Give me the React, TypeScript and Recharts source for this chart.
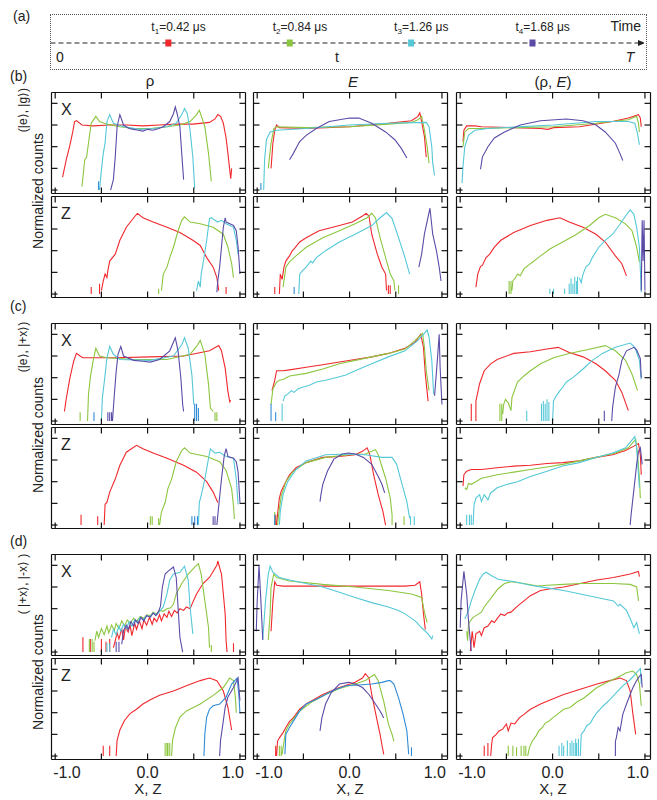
import React from 'react';
import { LineChart, Line, XAxis, YAxis, ScatterChart, Scatter, ReferenceLine } from 'recharts';

const FONT = '"Liberation Sans", Arial, Helvetica, sans-serif';
const RED = '#f0282d';
const GREEN = '#8cc63f';
const CYAN = '#55c8d7';
const BLUE = '#2f8bd6';
const PURPLE = '#5b4ba7';
const INK = '#222';

// ---------- timeline (a) ----------
const timeValues = [0.42, 0.84, 1.26, 1.68];
const timeSubs = ['1', '2', '3', '4'];
const timeTexts = ['=0.42 \u03bcs', '=0.84 \u03bcs', '=1.26 \u03bcs', '=1.68 \u03bcs'];
const timeColors = [RED, GREEN, CYAN, PURPLE];
const timeEnd = 2.066;

// ---------- axes ----------
const xTicks = [-1, -0.5, 0, 0.5, 1];
const yTicks = [0, 0.25, 0.5, 0.75, 1];
const xLabelTicks = [-1, 0, 1];
const X_DOMAIN: [number, number] = [-1.04, 1.06];
const Y_DOMAIN: [number, number] = [-0.04, 1.125];

// ---------- (b) (|e>,|g>) ----------
const b_rho_X = {
  red: [-0.92,0.15,-0.88,0.35,-0.84,0.52,-0.81,0.67,-0.79,0.79,-0.77,0.8,-0.71,0.75,-0.59,0.74,-0.41,0.75,-0.23,0.75,-0.05,0.74,0.13,0.75,0.31,0.76,0.49,0.76,0.67,0.78,0.73,0.82,0.76,0.87,0.79,0.85,0.82,0.77,0.85,0.6,0.87,0.42,0.9,0.13,0.91,0.25],
  green: [-0.71,0.04,-0.68,0.35,-0.66,0.38,-0.64,0.54,-0.61,0.77,-0.56,0.85,-0.52,0.79,-0.44,0.76,-0.3,0.73,-0.15,0.71,0.03,0.71,0.21,0.73,0.35,0.75,0.46,0.79,0.53,0.87,0.56,0.92,0.59,0.83,0.62,0.73,0.66,0.42,0.69,0.1],
  cyan: [-0.52,0,-0.5,0.23,-0.48,0.42,-0.46,0.54,-0.44,0.79,-0.41,0.87,-0.37,0.77,-0.26,0.73,-0.08,0.7,0.06,0.71,0.21,0.73,0.31,0.77,0.37,0.87,0.4,0.94,0.43,0.88,0.46,0.69,0.49,0.38,0.51,0.02],
  blueS: [-0.53,0.1],
  purple: [-0.4,0,-0.37,0.12,-0.35,0.38,-0.33,0.73,-0.3,0.87,-0.26,0.75,-0.2,0.71,-0.15,0.7,-0.1,0.69,-0.05,0.68,0.0,0.7,0.06,0.69,0.12,0.71,0.17,0.73,0.24,0.79,0.28,0.88,0.3,0.96,0.32,0.88,0.35,0.73,0.37,0.42,0.39,0.12],
};
const b_rho_Z = {
  red: [-0.5,0.04,-0.48,0.15,-0.46,0.23,-0.44,0.19,-0.43,0.27,-0.41,0.38,-0.35,0.46,-0.3,0.62,-0.23,0.77,-0.15,0.88,-0.11,0.93,-0.05,0.88,0.06,0.83,0.21,0.77,0.35,0.71,0.49,0.62,0.57,0.56,0.64,0.42,0.71,0.31,0.75,0.19,0.77,0.04],
  redS: [-0.61,0.08,-0.52,0.12,0.85,0.08],
  green: [0.15,0.04,0.17,0.23,0.21,0.31,0.24,0.42,0.28,0.54,0.33,0.73,0.37,0.85,0.4,0.89,0.46,0.83,0.57,0.81,0.71,0.77,0.82,0.69,0.87,0.54,0.91,0.35,0.93,0.19],
  greenS: [0.12,0.06],
  cyan: [0.53,0.04,0.55,0.15,0.57,0.08,0.58,0.23,0.6,0.35,0.64,0.62,0.67,0.87,0.69,0.88,0.73,0.85,0.76,0.83,0.8,0.85,0.85,0.81,0.93,0.77,0.96,0.62,0.98,0.46],
  purple: [0.75,0.02,0.76,0.15,0.78,0.31,0.8,0.54,0.82,0.77,0.84,0.88,0.85,0.83,0.89,0.81,0.93,0.79,0.96,0.73,0.98,0.54,1.0,0.23],
};
const b_E_X = {
  red: [-0.85,0.25,-0.83,0.54,-0.81,0.69,-0.79,0.75,-0.76,0.72,-0.47,0.71,-0.26,0.72,0,0.73,0.21,0.75,0.42,0.77,0.67,0.8,0.74,0.85,0.76,0.89,0.78,0.79,0.81,0.62,0.83,0.38],
  green: [-0.88,0.25,-0.85,0.54,-0.82,0.71,-0.79,0.73,-0.47,0.72,0,0.73,0.42,0.76,0.67,0.78,0.74,0.81,0.78,0.85,0.81,0.69,0.84,0.5,0.86,0.31],
  cyan: [-0.93,0,-0.92,0.35,-0.9,0.58,-0.86,0.67,-0.79,0.69,-0.47,0.71,0,0.75,0.42,0.77,0.83,0.78,0.86,0.73,0.89,0.5,0.9,0.31,0.92,0.17],
  blueS: [-0.96,0.08],
  purple: [-0.65,0.35,-0.61,0.42,-0.54,0.56,-0.47,0.63,-0.36,0.71,-0.22,0.79,0,0.83,0.1,0.83,0.24,0.77,0.39,0.67,0.49,0.58,0.56,0.48,0.62,0.37],
};
const b_E_Z = {
  red: [-0.76,0,-0.75,0.23,-0.73,0.17,-0.71,0.31,-0.69,0.38,-0.65,0.44,-0.62,0.5,-0.6,0.52,-0.54,0.6,-0.47,0.65,-0.33,0.73,-0.11,0.79,0.03,0.83,0.14,0.9,0.18,0.93,0.21,0.9,0.24,0.69,0.3,0.46,0.35,0.31,0.39,0.23,0.4,0.04],
  redS: [-0.81,0.08,0.42,0.1,0.44,0.1],
  green: [-0.72,0.08,-0.7,0.23,-0.69,0.31,-0.65,0.37,-0.58,0.44,-0.47,0.54,-0.29,0.65,-0.11,0.73,0.06,0.81,0.19,0.88,0.24,0.93,0.28,0.88,0.33,0.65,0.39,0.42,0.44,0.23,0.48,0.15,0.49,0.04],
  greenS: [0.53,0.1],
  cyan: [-0.55,0,-0.54,0.23,-0.51,0.27,-0.47,0.31,-0.42,0.38,-0.4,0.36,-0.36,0.42,-0.26,0.5,-0.11,0.6,0.06,0.69,0.24,0.79,0.33,0.88,0.4,0.94,0.46,0.87,0.53,0.65,0.6,0.42,0.65,0.23],
  blueS: [-0.6,0.08],
  purple: [0.75,0.31,0.78,0.46,0.81,0.69,0.87,0.99,0.9,0.69,0.94,0.5,0.97,0.31,0.99,0.15],
};
const b_RE_X = {
  red: [-0.97,0.56,-0.96,0.69,-0.93,0.74,-0.84,0.74,-0.77,0.73,-0.42,0.72,-0.13,0.71,-0.05,0.7,0.01,0.72,0.29,0.73,0.65,0.79,0.82,0.83,0.93,0.87,0.95,0.83,0.96,0.73],
  green: [-0.97,0.5,-0.95,0.67,-0.91,0.71,-0.77,0.71,0.01,0.73,0.47,0.77,0.82,0.81,0.91,0.85,0.93,0.77,0.94,0.67],
  cyan: [-0.98,0.08,-0.97,0.27,-0.95,0.5,-0.91,0.63,-0.84,0.69,-0.7,0.71,0.01,0.75,0.47,0.79,0.82,0.79,0.89,0.77,0.92,0.65,0.94,0.52],
  purple: [-0.78,0.24,-0.76,0.38,-0.7,0.5,-0.63,0.6,-0.52,0.67,-0.35,0.75,-0.13,0.8,0.15,0.82,0.33,0.8,0.47,0.75,0.57,0.67,0.68,0.54,0.73,0.42,0.76,0.34],
};
const b_RE_Z = {
  red: [-0.83,0.08,-0.81,0.23,-0.78,0.32,-0.76,0.33,-0.72,0.42,-0.68,0.46,-0.63,0.54,-0.56,0.62,-0.42,0.71,-0.24,0.79,-0.06,0.85,0.08,0.88,0.18,0.83,0.33,0.77,0.47,0.69,0.57,0.6,0.68,0.44,0.75,0.35,0.8,0.21],
  green: [-0.44,0.04,-0.43,0.15,-0.4,0.19,-0.38,0.23,-0.35,0.21,-0.31,0.29,-0.24,0.35,-0.13,0.44,-0.03,0.52,0.11,0.6,0.26,0.69,0.4,0.79,0.5,0.88,0.57,0.92,0.68,0.88,0.79,0.81,0.86,0.73,0.91,0.54,0.94,0.37],
  greenS: [-0.47,0.15,-0.45,0.15],
  cyan: [0.29,0.19,0.31,0.13,0.33,0.23,0.36,0.31,0.4,0.35,0.43,0.42,0.5,0.54,0.57,0.62,0.65,0.69,0.72,0.79,0.79,0.9,0.84,0.97,0.88,0.92,0.91,0.77,0.94,0.54,0.96,0.02],
  cyanS: [-0.03,0.06,0.01,0.06,0.13,0.06,0.18,0.12,0.2,0.18,0.22,0.12,0.24,0.2,0.26,0.15,0.27,0.2],
  purple: [0.96,0.04,0.97,0.85,0.98,0.38,0.99,0.85,1.0,0.04],
};

// ---------- (c) (|e>,|+x>) ----------
const c_rho_X = {
  red: [-0.9,0.11,-0.88,0.26,-0.84,0.5,-0.8,0.69,-0.77,0.78,-0.73,0.75,-0.7,0.73,-0.34,0.73,0.03,0.74,0.39,0.75,0.67,0.81,0.77,0.87,0.8,0.81,0.84,0.61,0.87,0.34,0.89,0.22,0.9,0.24],
  green: [-0.65,0,-0.64,0.3,-0.62,0.5,-0.59,0.69,-0.56,0.84,-0.52,0.75,-0.44,0.73,-0.15,0.71,0.21,0.71,0.46,0.77,0.53,0.86,0.57,0.93,0.62,0.77,0.66,0.42,0.68,0.15,0.71,0.11],
  greenS: [-0.73,0.1,0.73,0.1,0.75,0.1],
  cyan: [-0.5,0,-0.49,0.26,-0.46,0.53,-0.44,0.73,-0.41,0.86,-0.37,0.77,-0.3,0.71,0.03,0.7,0.28,0.75,0.37,0.88,0.4,0.96,0.44,0.84,0.48,0.53,0.5,0.19],
  blueS: [-0.58,0.1,0.51,0.2,0.53,0.2,0.55,0.15],
  purple: [-0.38,0,-0.36,0.3,-0.34,0.57,-0.32,0.77,-0.29,0.86,-0.26,0.75,-0.15,0.7,-0.05,0.69,0.03,0.68,0.13,0.71,0.24,0.81,0.3,0.96,0.33,0.81,0.36,0.5,0.38,0.19,0.39,0.11],
  purpleS: [-0.43,0.1,-0.41,0.1,-0.39,0.1],
};
const c_rho_Z = {
  red: [-0.47,0,-0.46,0.24,-0.44,0.26,-0.41,0.38,-0.35,0.53,-0.3,0.69,-0.23,0.84,-0.12,0.92,-0.05,0.88,0.06,0.83,0.21,0.77,0.39,0.69,0.53,0.61,0.64,0.5,0.71,0.38,0.76,0.26],
  redS: [-0.72,0.12,-0.54,0.1],
  green: [0.13,0,0.15,0.15,0.19,0.26,0.22,0.42,0.26,0.53,0.31,0.73,0.37,0.86,0.4,0.89,0.46,0.83,0.64,0.79,0.78,0.73,0.85,0.63,0.91,0.42,0.93,0.22,0.94,0.07],
  greenS: [0.03,0.1,0.05,0.1,0.12,0.08],
  cyan: [0.55,0,0.56,0.26,0.58,0.34,0.62,0.53,0.66,0.77,0.68,0.88,0.73,0.83,0.78,0.84,0.85,0.79,0.93,0.77,0.96,0.53,0.98,0.24],
  blueS: [0.48,0.1,0.51,0.1,0.54,0.1],
  purple: [0.75,0,0.77,0.22,0.8,0.53,0.83,0.8,0.85,0.88,0.87,0.79,0.93,0.77,0.96,0.73,0.98,0.61,1.0,0.26],
  purpleS: [0.71,0.1,0.73,0.1],
};
const c_E_X = {
  red: [-0.84,0.35,-0.81,0.47,-0.79,0.58,-0.72,0.58,-0.65,0.59,-0.47,0.62,-0.29,0.65,-0.11,0.68,0.06,0.71,0.24,0.74,0.42,0.78,0.6,0.84,0.71,0.91,0.77,1.0,0.8,0.85,0.82,0.54,0.85,0.23],
  blueS: [-0.85,0.2,-0.8,0.1],
  green: [-0.85,0.19,-0.83,0.37,-0.79,0.45,-0.76,0.47,-0.72,0.48,-0.65,0.52,-0.47,0.55,-0.29,0.6,-0.11,0.66,0.06,0.7,0.24,0.74,0.42,0.78,0.6,0.83,0.71,0.93,0.79,1.01,0.81,0.85,0.83,0.58,0.86,0.35],
  cyan: [-0.72,0.23,-0.7,0.29,-0.67,0.31,-0.63,0.35,-0.6,0.33,-0.56,0.37,-0.51,0.39,-0.44,0.41,-0.36,0.45,-0.26,0.47,-0.15,0.5,-0.04,0.53,0.06,0.58,0.24,0.66,0.42,0.74,0.6,0.81,0.74,0.93,0.8,1.0,0.84,1.05,0.86,0.97,0.89,0.7,0.91,0.31],
  cyanS: [-0.73,0.2],
  purple: [0.92,0.29,0.95,0.7,0.97,1.0,0.98,0.62,1.0,0.19],
};
const c_E_Z = {
  red: [-0.79,0,-0.78,0.12,-0.76,0.31,-0.74,0.39,-0.7,0.48,-0.65,0.58,-0.58,0.66,-0.47,0.72,-0.29,0.78,-0.11,0.79,0.06,0.81,0.14,0.85,0.19,0.89,0.22,0.81,0.26,0.58,0.31,0.35,0.36,0.16,0.39,0],
  redS: [-0.8,0.12],
  green: [-0.78,0,-0.76,0.19,-0.74,0.33,-0.69,0.5,-0.61,0.62,-0.47,0.72,-0.26,0.78,-0.01,0.81,0.17,0.82,0.24,0.85,0.28,0.87,0.31,0.81,0.39,0.54,0.44,0.31,0.46,0.12],
  greenS: [-0.81,0.15,0.46,0.12,0.59,0.1],
  cyan: [-0.76,0,-0.75,0.16,-0.72,0.35,-0.67,0.5,-0.58,0.64,-0.47,0.74,-0.26,0.81,-0.01,0.82,0.17,0.81,0.35,0.78,0.46,0.78,0.51,0.7,0.56,0.5,0.62,0.27,0.65,0.08],
  cyanS: [0.66,0.1,0.7,0.1],
  blueS: [-0.81,0.12],
  purple: [-0.32,0.27,-0.31,0.35,-0.29,0.47,-0.24,0.62,-0.17,0.76,-0.08,0.82,-0.01,0.83,0.06,0.82,0.15,0.78,0.24,0.7,0.31,0.56,0.35,0.47,0.38,0.37],
};
const c_RE_X = {
  red: [-0.83,0,-0.83,0.23,-0.79,0.43,-0.74,0.58,-0.67,0.66,-0.6,0.71,-0.42,0.78,-0.24,0.8,-0.06,0.83,0.06,0.85,0.18,0.79,0.33,0.74,0.47,0.66,0.57,0.58,0.68,0.47,0.75,0.33,0.82,0.12],
  redS: [-0.88,0.2],
  green: [-0.54,0.08,-0.53,0.19,-0.51,0.25,-0.48,0.21,-0.45,0.12,-0.44,0.27,-0.38,0.45,-0.31,0.52,-0.24,0.58,-0.13,0.66,0.01,0.73,0.18,0.78,0.36,0.82,0.57,0.87,0.68,0.81,0.79,0.7,0.86,0.54,0.92,0.35],
  greenS: [-0.57,0.2,-0.55,0.2],
  cyan: [0,0,0.01,0.23,0.04,0.29,0.08,0.35,0.11,0.39,0.15,0.45,0.22,0.5,0.33,0.6,0.43,0.7,0.54,0.78,0.68,0.85,0.84,0.9,0.89,0.85,0.94,0.7,0.96,0.48],
  cyanS: [-0.28,0.12,-0.12,0.2,-0.1,0.23,-0.08,0.2,-0.06,0.25,-0.04,0.22],
  purple: [0.64,0,0.65,0.16,0.68,0.39,0.72,0.54,0.75,0.7,0.8,0.81,0.88,0.85,0.91,0.82,0.95,0.72,0.96,0.5],
  purpleS: [0.56,0.12],
};
const c_RE_Z = {
  red: [-0.97,0.45,-0.96,0.58,-0.93,0.62,-0.88,0.64,-0.77,0.64,-0.6,0.66,-0.42,0.68,-0.24,0.69,-0.06,0.71,0.11,0.72,0.29,0.74,0.47,0.78,0.65,0.81,0.79,0.86,0.88,0.91,0.93,0.94,0.95,0.81,0.96,0.58],
  green: [-0.95,0.43,-0.93,0.41,-0.91,0.48,-0.88,0.47,-0.83,0.5,-0.77,0.54,-0.6,0.58,-0.42,0.61,-0.24,0.64,-0.06,0.67,0.11,0.7,0.29,0.74,0.47,0.78,0.68,0.83,0.82,0.89,0.9,0.99,0.92,0.81,0.94,0.54,0.95,0.31],
  cyan: [-0.86,0,-0.85,0.23,-0.83,0.31,-0.79,0.35,-0.77,0.27,-0.74,0.35,-0.7,0.29,-0.67,0.37,-0.6,0.43,-0.49,0.47,-0.38,0.5,-0.24,0.56,-0.06,0.62,0.11,0.68,0.29,0.72,0.47,0.78,0.65,0.83,0.79,0.89,0.89,1.02,0.91,0.89,0.93,0.58,0.94,0.43],
  cyanS: [-0.93,0.12,-0.9,0.12,-0.88,0.12],
  purple: [0.84,0,0.85,0.12,0.87,0.31,0.89,0.5,0.91,0.7,0.93,0.85,0.95,0.89,0.97,0.7],
};

// ---------- (d) (|+x>,|-x>) ----------
const d_rho_X = {
  red: [-0.37,0.05,-0.35,0.13,-0.33,0.22,-0.31,0.15,-0.28,0.27,-0.26,0.14,-0.24,0.29,-0.21,0.23,-0.19,0.31,-0.17,0.19,-0.14,0.33,-0.12,0.26,-0.09,0.36,-0.06,0.27,-0.04,0.37,-0.01,0.31,0.02,0.4,0.05,0.32,0.07,0.39,0.1,0.35,0.13,0.43,0.15,0.36,0.18,0.44,0.21,0.4,0.23,0.47,0.26,0.41,0.29,0.48,0.32,0.45,0.35,0.5,0.39,0.48,0.42,0.52,0.46,0.5,0.48,0.55,0.53,0.67,0.6,0.79,0.67,0.86,0.75,1.0,0.76,1.05,0.8,0.9,0.84,0.44,0.85,0.13,0.86,0],
  redS: [-0.7,0.17,-0.62,0.15,-0.5,0.15,-0.45,0.12,-0.41,0.15,0.93,0.1],
  green: [-0.57,0.13,-0.55,0.24,-0.53,0.17,-0.5,0.27,-0.47,0.2,-0.44,0.3,-0.42,0.22,-0.39,0.31,-0.36,0.25,-0.34,0.33,-0.31,0.27,-0.28,0.36,-0.25,0.3,-0.22,0.37,-0.19,0.33,-0.15,0.39,-0.12,0.35,-0.08,0.41,-0.04,0.39,-0.01,0.43,0.03,0.42,0.06,0.46,0.1,0.44,0.13,0.48,0.17,0.47,0.21,0.5,0.25,0.51,0.28,0.55,0.31,0.67,0.37,0.79,0.44,0.9,0.51,0.98,0.55,1.02,0.58,0.9,0.62,0.59,0.66,0.28,0.67,0.05],
  greenS: [-0.63,0.15,-0.6,0.15,-0.58,0.12,0.69,0.08],
  cyan: [-0.39,0.17,-0.37,0.26,-0.34,0.2,-0.31,0.3,-0.29,0.24,-0.26,0.32,-0.23,0.27,-0.2,0.35,-0.17,0.3,-0.14,0.37,-0.11,0.34,-0.08,0.4,-0.05,0.37,-0.01,0.42,0.03,0.41,0.06,0.45,0.1,0.43,0.13,0.47,0.17,0.52,0.21,0.67,0.24,0.83,0.28,0.9,0.35,0.92,0.4,0.99,0.44,0.83,0.46,0.52,0.49,0.21],
  cyanS: [-0.44,0.1,-0.41,0.1],
  purple: [-0.28,0.09,-0.26,0.25,-0.23,0.31,-0.21,0.26,-0.18,0.35,-0.15,0.3,-0.13,0.37,-0.1,0.33,-0.07,0.4,-0.04,0.36,-0.01,0.42,0.03,0.4,0.06,0.45,0.09,0.42,0.12,0.47,0.14,0.53,0.16,0.75,0.19,0.9,0.22,0.93,0.28,0.98,0.31,0.86,0.33,0.52,0.35,0.17,0.38,0],
  purpleS: [-0.34,0.12,-0.31,0.12],
};
const d_rho_Z = {
  red: [-0.34,0,-0.33,0.18,-0.3,0.3,-0.25,0.41,-0.19,0.49,-0.12,0.54,-0.05,0.6,0.03,0.65,0.13,0.7,0.28,0.75,0.42,0.81,0.57,0.87,0.67,0.9,0.75,0.87,0.82,0.75,0.87,0.56,0.91,0.3],
  redS: [-0.48,0.12,-0.41,0.12],
  green: [0.26,0,0.27,0.18,0.3,0.32,0.35,0.45,0.42,0.52,0.57,0.6,0.71,0.7,0.82,0.79,0.89,0.9,0.93,0.87,0.95,0.68,0.96,0.5],
  greenS: [0.19,0.15,0.21,0.15,0.22,0.15,0.24,0.15],
  blue: [0.61,0,0.62,0.26,0.64,0.45,0.67,0.54,0.71,0.58,0.78,0.6,0.85,0.68,0.91,0.83,0.97,0.9,0.99,0.68,1.0,0.49],
  purple: [0.78,0,0.79,0.18,0.81,0.33,0.84,0.56,0.87,0.68,0.93,0.79,0.98,0.9,1.0,0.64],
};
const d_E_X = {
  red: [-0.85,0.24,-0.83,0.59,-0.81,0.81,-0.79,0.77,-0.72,0.76,-0.47,0.76,-0.11,0.76,0.24,0.76,0.6,0.76,0.71,0.77,0.76,0.81,0.78,0.67,0.8,0.44,0.82,0.26],
  green: [-0.88,0.14,-0.86,0.44,-0.85,0.75,-0.82,0.9,-0.79,0.86,-0.65,0.82,-0.29,0.78,0.06,0.75,0.42,0.71,0.67,0.67,0.78,0.63,0.81,0.46,0.84,0.34],
  cyan: [-0.94,0.14,-0.91,0.59,-0.88,0.9,-0.86,0.99,-0.83,0.92,-0.76,0.86,-0.65,0.83,-0.47,0.79,-0.29,0.75,-0.11,0.69,0.06,0.63,0.24,0.57,0.42,0.52,0.53,0.48,0.6,0.44,0.71,0.36,0.78,0.28,0.85,0.21,0.89,0.15,0.9,0.19],
  purple: [-1.01,0.24,-1.0,0.59,-0.98,1.0,-0.96,0.59,-0.94,0.14],
};
const d_E_Z = {
  red: [-0.79,0,-0.78,0.17,-0.76,0.21,-0.72,0.27,-0.69,0.33,-0.65,0.4,-0.61,0.44,-0.54,0.54,-0.47,0.6,-0.29,0.71,-0.11,0.79,0.06,0.85,0.14,0.9,0.17,0.95,0.21,0.9,0.24,0.71,0.3,0.4,0.33,0.25,0.35,0.13,0.37,0.02],
  redS: [-0.8,0.12],
  green: [-0.73,0.02,-0.71,0.17,-0.69,0.29,-0.65,0.37,-0.54,0.52,-0.4,0.63,-0.26,0.71,-0.11,0.78,0.06,0.83,0.17,0.87,0.24,0.92,0.27,0.94,0.31,0.87,0.37,0.63,0.42,0.37,0.46,0.25,0.48,0.17],
  greenS: [-0.76,0.12,-0.74,0.12],
  blue: [-0.7,0.02,-0.69,0.25,-0.65,0.33,-0.61,0.4,-0.54,0.52,-0.47,0.6,-0.33,0.67,-0.19,0.75,-0.04,0.81,0.1,0.82,0.24,0.83,0.35,0.85,0.42,0.87,0.44,0.87,0.48,0.83,0.53,0.67,0.58,0.48,0.62,0.29,0.64,0.02],
  blueS: [0.67,0.1],
  purple: [-0.32,0.29,-0.3,0.44,-0.26,0.6,-0.2,0.73,-0.11,0.83,-0.01,0.85,0.06,0.83,0.14,0.79,0.21,0.71,0.28,0.6,0.33,0.52,0.37,0.44],
};
const d_RE_X = {
  red: [-0.89,0.01,-0.87,0.24,-0.85,0.05,-0.83,0.21,-0.79,0.24,-0.77,0.19,-0.74,0.28,-0.7,0.3,-0.66,0.36,-0.63,0.34,-0.59,0.4,-0.56,0.44,-0.52,0.42,-0.49,0.45,-0.45,0.46,-0.38,0.53,-0.31,0.59,-0.24,0.65,-0.13,0.71,-0.02,0.73,0.12,0.75,0.3,0.79,0.48,0.83,0.66,0.86,0.84,0.9,0.93,0.93,0.94,0.87],
  green: [-0.93,0.24,-0.92,0.13,-0.91,0.32,-0.89,0.36,-0.86,0.4,-0.83,0.42,-0.77,0.46,-0.74,0.52,-0.66,0.63,-0.59,0.73,-0.52,0.79,-0.45,0.81,-0.31,0.79,-0.16,0.76,-0.06,0.77,0.12,0.78,0.3,0.79,0.48,0.79,0.66,0.79,0.84,0.78,0.91,0.75,0.93,0.59],
  cyan: [-0.95,0.38,-0.91,0.48,-0.88,0.59,-0.84,0.71,-0.79,0.84,-0.75,0.9,-0.72,0.92,-0.66,0.88,-0.59,0.84,-0.41,0.81,-0.24,0.77,-0.06,0.74,0.12,0.71,0.3,0.67,0.48,0.63,0.66,0.59,0.71,0.53,0.73,0.55,0.8,0.48,0.85,0.36,0.88,0.28,0.91,0.34,0.94,0.21],
  purple: [-1.0,0.28,-0.99,0.59,-0.96,0.93,-0.93,0.67,-0.91,0.36,-0.88,0.01],
};
const d_RE_Z = {
  red: [-0.67,0,-0.66,0.13,-0.65,0.21,-0.61,0.25,-0.58,0.29,-0.54,0.31,-0.5,0.37,-0.48,0.29,-0.45,0.38,-0.41,0.37,-0.36,0.44,-0.31,0.48,-0.24,0.54,-0.13,0.6,-0.02,0.65,0.12,0.71,0.3,0.77,0.48,0.83,0.62,0.87,0.73,0.9,0.8,0.87,0.84,0.75,0.87,0.48,0.9,0.25],
  redS: [-0.74,0.12,-0.7,0.15],
  green: [-0.27,0,-0.25,0.1,-0.22,0.17,-0.18,0.23,-0.15,0.29,-0.11,0.33,-0.08,0.38,-0.04,0.4,0,0.44,0.05,0.48,0.12,0.54,0.19,0.56,0.26,0.62,0.34,0.67,0.41,0.73,0.48,0.79,0.59,0.85,0.69,0.9,0.8,0.96,0.87,0.98,0.91,0.94,0.94,0.83,0.96,0.58],
  greenS: [-0.48,0.12,-0.43,0.12,-0.39,0.1,-0.34,0.12,-0.31,0.12,-0.29,0.12],
  cyan: [0.3,0,0.31,0.25,0.34,0.29,0.37,0.35,0.41,0.38,0.44,0.44,0.48,0.5,0.55,0.58,0.62,0.65,0.69,0.73,0.76,0.81,0.84,0.88,0.89,0.94,0.95,1.01,0.96,0.83],
  cyanS: [0.07,0.12,0.1,0.15,0.12,0.12,0.16,0.18,0.19,0.15,0.21,0.18,0.23,0.15,0.25,0.2,0.26,0.15,0.28,0.2],
  purple: [0.68,0,0.68,0.17,0.69,0.21,0.71,0.33,0.73,0.29,0.76,0.48,0.8,0.6,0.84,0.71,0.87,0.79,0.91,0.87,0.94,0.92,0.96,0.94,0.97,0.79],
};

// ---------- layout ----------
const colLefts = [51, 253, 456];
const rowTops = [92, 196, 323, 427, 554, 658];
const PW = 194;
const PH = 101;
const rowNames = ['X', 'Z', 'X', 'Z', 'X', 'Z'];
const grid = [
  [b_rho_X, b_E_X, b_RE_X],
  [b_rho_Z, b_E_Z, b_RE_Z],
  [c_rho_X, c_E_X, c_RE_X],
  [c_rho_Z, c_E_Z, c_RE_Z],
  [d_rho_X, d_E_X, d_RE_X],
  [d_rho_Z, d_E_Z, d_RE_Z],
];
const groupLabels = ['(b)', '(c)', '(d)'];
const groupLabelY = [81, 311, 546];
const ketLabels = ['(|e\u27e9, |g\u27e9)', '(|e\u27e9, |+x\u27e9)', '( |+x\u27e9, |-x\u27e9 )'];
const ketY = [110, 347, 584];
const countsY = [191, 435, 672];

const seriesOrder: [string, string][] = [
  ['red', RED],
  ['green', GREEN],
  ['cyan', CYAN],
  ['blue', BLUE],
  ['purple', PURPLE],
];

function buildData(pts: number[], spikes: number[]) {
  const out: { x: number; y: number | null }[] = [];
  for (let i = 0; i < pts.length; i += 2) out.push({ x: pts[i], y: pts[i + 1] });
  for (let i = 0; i < spikes.length; i += 2) {
    out.push({ x: spikes[i], y: null });
    out.push({ x: spikes[i], y: 0 });
    out.push({ x: spikes[i], y: spikes[i + 1] });
  }
  return out;
}

const NoTick = () => <g />;

const BottomTick = (props: any) => {
  const { x, y, payload } = props;
  const v = payload.value as number;
  const anchor = v < 0 ? 'start' : v > 0 ? 'end' : 'middle';
  const dx = v < 0 ? -2 : v > 0 ? 4 : 0;
  return (
    <text x={x + dx} y={y} dy={10} textAnchor={anchor} fontSize={16} fill={INK} fontFamily={FONT}>
      {v.toFixed(1)}
    </text>
  );
};

function Panel({ left, top, panel, bottom }: { left: number; top: number; panel: any; bottom: boolean }) {
  const M = 2.5;
  const extra = bottom ? 26 : 0;
  const lines: any[] = [];
  seriesOrder.forEach(([key, color]) => {
    const pts: number[] = panel[key] || [];
    const sp: number[] = panel[key + 'S'] || [];
    if (!pts.length && !sp.length) return;
    lines.push(
      <Line
        key={key}
        xAxisId="b"
        yAxisId="l"
        data={buildData(pts, sp)}
        dataKey="y"
        type="linear"
        stroke={color}
        strokeWidth={1.1}
        dot={false}
        activeDot={false}
        connectNulls={false}
        isAnimationActive={false}
      />
    );
  });
  const axisStroke = { stroke: '#111', strokeWidth: 1.2 };
  return (
    <div style={{ position: 'absolute', left: left - 2, top: top - 2 }}>
      <LineChart width={PW + 5} height={PH + 5 + extra} margin={{ top: M, right: M, bottom: M, left: M }}>
        <XAxis xAxisId="b" dataKey="x" type="number" domain={X_DOMAIN} ticks={xTicks} orientation="bottom" mirror tick={<NoTick />} tickSize={6} allowDataOverflow axisLine={axisStroke} tickLine={axisStroke} interval={0} />
        <XAxis xAxisId="t" dataKey="x" type="number" domain={X_DOMAIN} ticks={xTicks} orientation="top" mirror tick={<NoTick />} tickSize={6} allowDataOverflow axisLine={axisStroke} tickLine={axisStroke} interval={0} />
        {bottom && (
          <XAxis xAxisId="lab" dataKey="x" type="number" domain={X_DOMAIN} ticks={xLabelTicks} orientation="bottom" height={extra} axisLine={false} tickLine={false} tick={<BottomTick />} allowDataOverflow interval={0} />
        )}
        <YAxis yAxisId="l" type="number" domain={Y_DOMAIN} ticks={yTicks} orientation="left" mirror tick={<NoTick />} tickSize={6} allowDataOverflow axisLine={axisStroke} tickLine={axisStroke} interval={0} />
        <YAxis yAxisId="r" type="number" domain={Y_DOMAIN} ticks={yTicks} orientation="right" mirror tick={<NoTick />} tickSize={6} allowDataOverflow axisLine={axisStroke} tickLine={axisStroke} interval={0} />
        {lines}
      </LineChart>
    </div>
  );
}

const TimeMarker = (props: any) => {
  const { cx, cy, payload } = props;
  return (
    <g>
      <rect x={cx - 3} y={cy - 3.5} width={6} height={7} fill={payload.color} />
      <text x={cx - 17} y={cy - 12} fontSize={12} fill={INK} fontFamily={FONT}>
        t<tspan fontSize={8} dy={3}>{payload.sub}</tspan>
        <tspan dy={-3}>{payload.text}</tspan>
      </text>
    </g>
  );
};

const ArrowHead = (props: any) => {
  const { cx, cy } = props;
  return <polygon points={`${cx - 6},${cy - 3} ${cx + 1},${cy} ${cx - 6},${cy + 3}`} fill={INK} />;
};

function Timeline() {
  const data = timeValues.map((t, i) => ({ t, v: 0.5, sub: timeSubs[i], text: timeTexts[i], color: timeColors[i] }));
  return (
    <div style={{ position: 'absolute', left: 47, top: 14 }}>
      <ScatterChart width={600} height={58} margin={{ top: 0, right: 3, bottom: 0, left: 0 }}>
        <XAxis dataKey="t" type="number" domain={[0, timeEnd]} hide allowDataOverflow />
        <YAxis dataKey="v" type="number" domain={[0, 1]} hide allowDataOverflow />
        <ReferenceLine segment={[{ x: 0.012, y: 0.5 }, { x: timeEnd - 0.012, y: 0.5 }]} stroke={INK} strokeWidth={1} strokeDasharray="5 3" />
        <Scatter data={[{ t: timeEnd, v: 0.5 }]} shape={<ArrowHead />} isAnimationActive={false} />
        <Scatter data={data} shape={<TimeMarker />} isAnimationActive={false} />
      </ScatterChart>
    </div>
  );
}

export default function App() {
  const colCenters = colLefts.map((l) => l + PW / 2);
  return (
    <div style={{ position: 'absolute', left: 0, top: 0, width: 657, height: 800, background: '#fff', overflow: 'hidden', fontFamily: FONT }}>
      <div style={{ position: 'absolute', left: 50, top: 14, width: 597, height: 56, border: '1px dotted #555', boxSizing: 'border-box' }} />
      <Timeline />
      {grid.map((row, ri) =>
        row.map((panel, ci) => (
          <Panel key={`${ri}-${ci}`} left={colLefts[ci]} top={rowTops[ri]} panel={panel} bottom={ri === grid.length - 1} />
        ))
      )}
      <svg width={657} height={800} style={{ position: 'absolute', left: 0, top: 0, pointerEvents: 'none' }} fontFamily={FONT} fill={INK}>
        <text x={13} y={21} fontSize={14}>(a)</text>
        <text x={641} y={31} fontSize={14} textAnchor="end">Time</text>
        <text x={56} y={62} fontSize={14}>0</text>
        <text x={337} y={62} fontSize={14} textAnchor="middle">t</text>
        <text x={630} y={62} fontSize={14} textAnchor="middle" fontStyle="italic">T</text>
        <text x={colCenters[0] + 2} y={86} fontSize={15} textAnchor="middle">{'\u03c1'}</text>
        <text x={colCenters[1] + 3} y={87} fontSize={15} textAnchor="middle" fontStyle="italic">E</text>
        <text x={colCenters[2]} y={87} fontSize={15} textAnchor="middle">
          ({'\u03c1'}, <tspan fontStyle="italic">E</tspan>)
        </text>
        {groupLabels.map((g, i) => (
          <text key={g} x={10} y={groupLabelY[i]} fontSize={14}>{g}</text>
        ))}
        {ketLabels.map((k, i) => (
          <text key={k} transform={`translate(27, ${ketY[i]}) rotate(-90)`} fontSize={12} textAnchor="middle">{k}</text>
        ))}
        {countsY.map((cy, i) => (
          <text key={i} transform={`translate(43, ${cy}) rotate(-90)`} fontSize={14} textAnchor="middle">Normalized counts</text>
        ))}
        {rowTops.map((t, ri) => (
          <text key={`${ri}`} x={colLefts[0] + 10} y={t + 23} fontSize={16}>{rowNames[ri]}</text>
        ))}
        {colCenters.map((c, i) => (
          <text key={i} x={c} y={794} fontSize={15} textAnchor="middle">X, Z</text>
        ))}
      </svg>
    </div>
  );
}
